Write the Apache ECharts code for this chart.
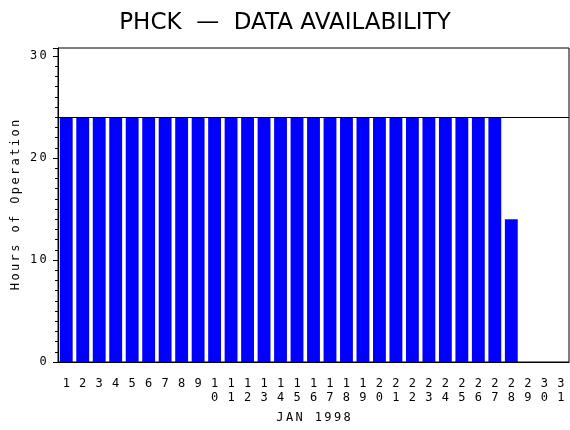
<!DOCTYPE html>
<html>
<head>
<meta charset="utf-8">
<script src="https://cdn.jsdelivr.net/npm/echarts@6/dist/echarts.min.js"></script>
<style>
html,body{margin:0;padding:0;background:#fff;}
#chart{width:570px;height:430px;}
</style>
</head>
<body>
<div id="chart"></div>
<script>
// days of the month
var days = [];
for (var d = 1; d <= 31; d++) { days.push(String(d)); }
// hours of operation per day
var hours = [24,24,24,24,24,24,24,24,24,24,24,24,24,24,24,24,24,24,24,24,24,24,24,24,24,24,24,14,0,0,0];
var expectedHours = 24;
var yTicks = [0, 10, 20, 30];

var monoFont = 'DejaVu Sans Mono';

// plot text is wide letter-spaced: every char gets its own fixed cell
function spaced(s) {
	var out = '';
	for (var i = 0; i < s.length; i++) {
		out += '{c|' + (s[i] === ' ' ? '\u00a0' : s[i]) + '}';
	}
	return out;
}
var cellRich = {
	c: { width: 9.6, align: 'center', fontFamily: monoFont, fontSize: 12, color: '#000' }
};

var myChart = echarts.init(document.getElementById('chart'));
var option = {
	animation: false,
	backgroundColor: '#fff',
	title: {
		text: 'PHCK  \u2014  DATA AVAILABILITY',
		left: 'center',
		top: 7,
		textStyle: {
			fontFamily: 'DejaVu Sans',
			fontWeight: 'normal',
			fontSize: 23,
			color: '#000'
		}
	},
	grid: {
		left: 58,
		right: 1,
		top: 48,
		bottom: 68,
		outerBoundsMode: 'none',
		containLabel: false,
		show: true,
		borderColor: '#000',
		borderWidth: 1,
		backgroundColor: 'transparent'
	},
	xAxis: {
		type: 'category',
		data: days,
		name: spaced('JAN 1998'),
		nameLocation: 'middle',
		nameGap: 50,
		nameMoveOverlap: false,
		nameTextStyle: { fontFamily: monoFont, fontSize: 12, color: '#000', rich: cellRich },
		axisLine: { lineStyle: { color: '#000' } },
		axisTick: { show: false },
		axisLabel: {
			interval: 0,
			margin: 15,
			fontFamily: monoFont,
			fontSize: 12,
			lineHeight: 14,
			color: '#000',
			verticalAlign: 'top',
			formatter: function (v) { return v.split('').join('\n'); }
		}
	},
	yAxis: {
		type: 'value',
		min: 0,
		max: 30.8,
		interval: 10,
		name: spaced('Hours of Operation'),
		nameLocation: 'middle',
		nameGap: 36,
		nameMoveOverlap: false,
		nameTextStyle: { fontFamily: monoFont, fontSize: 12, color: '#000', rich: cellRich },
		axisLine: { show: true, lineStyle: { color: '#000' } },
		axisTick: { show: true, length: 5, inside: false, lineStyle: { color: '#000' } },
		minorTick: { show: true, splitNumber: 10, length: 3, lineStyle: { color: '#000' } },
		splitLine: { show: false },
		axisLabel: {
			fontFamily: monoFont,
			fontSize: 12,
			color: '#000',
			margin: 10,
			rich: cellRich,
			formatter: function (v) { return yTicks.indexOf(v) >= 0 ? spaced(String(v)) : ''; }
		}
	},
	series: [{
		type: 'bar',
		data: hours,
		barCategoryGap: '22%',
		itemStyle: { color: '#0000ff' },
		markLine: {
			silent: true,
			symbol: 'none',
			label: { show: false },
			lineStyle: { color: '#000', width: 1, type: 'solid' },
			data: [{ yAxis: expectedHours }]
		}
	}]
};
myChart.setOption(option);
</script>
</body>
</html>
